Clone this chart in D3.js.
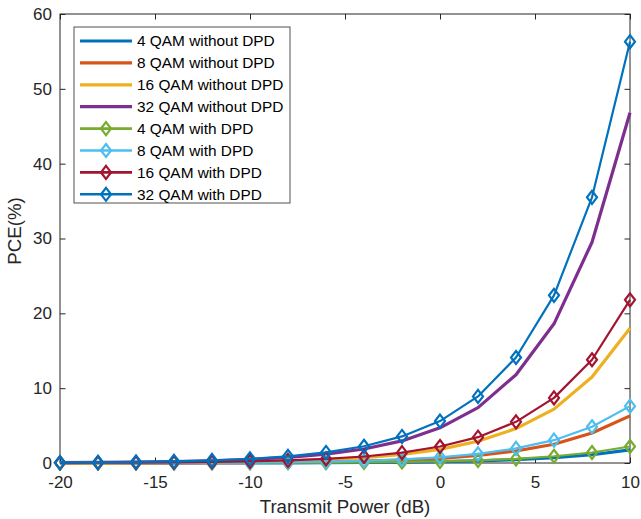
<!DOCTYPE html>
<html>
<head>
<meta charset="utf-8">
<script src="https://cdn.jsdelivr.net/npm/d3@7"></script>
<style>
  html, body { margin: 0; padding: 0; background: #fff; }
  svg { display: block; font-family: "Liberation Sans", Arial, sans-serif; }
</style>
</head>
<body>
<svg id="chart" width="641" height="519"></svg>
<script>
// Transmit power sweep (dB)
const powerDb = [-20, -18, -16, -14, -12, -10, -8, -6, -4, -2, 0, 2, 4, 6, 8, 10];

// PCE (%) for each modulation order, without and with DPD
const qam4    = [0.0018, 0.0028, 0.0044, 0.007, 0.011, 0.018, 0.028, 0.044, 0.07, 0.11, 0.175, 0.28, 0.44, 0.7, 1.1, 1.75];
const qam8    = [0.0063, 0.01, 0.016, 0.025, 0.04, 0.063, 0.1, 0.16, 0.25, 0.4, 0.63, 1.0, 1.6, 2.5, 4.0, 6.3];
const qam16   = [0.018, 0.029, 0.046, 0.072, 0.115, 0.18, 0.29, 0.46, 0.72, 1.15, 1.82, 2.9, 4.6, 7.2, 11.5, 18.0];
const qam32   = [0.047, 0.074, 0.12, 0.19, 0.3, 0.47, 0.74, 1.18, 1.87, 2.95, 4.7, 7.4, 11.8, 18.6, 29.5, 46.8];
const qam4Dpd = [0.0022, 0.0035, 0.0055, 0.0088, 0.014, 0.022, 0.035, 0.055, 0.088, 0.14, 0.22, 0.35, 0.55, 0.9, 1.4, 2.2];
const qam8Dpd = [0.0076, 0.012, 0.019, 0.03, 0.048, 0.076, 0.12, 0.19, 0.3, 0.48, 0.76, 1.22, 1.95, 3.05, 4.85, 7.6];
const qam16Dpd = [0.022, 0.035, 0.055, 0.087, 0.14, 0.22, 0.35, 0.55, 0.87, 1.38, 2.2, 3.45, 5.5, 8.7, 13.8, 21.8];
const qam32Dpd = [0.056, 0.089, 0.14, 0.22, 0.35, 0.56, 0.89, 1.41, 2.24, 3.55, 5.6, 8.9, 14.1, 22.4, 35.5, 56.3];

const seriesNames = [
  "4 QAM without DPD", "8 QAM without DPD", "16 QAM without DPD", "32 QAM without DPD",
  "4 QAM with DPD", "8 QAM with DPD", "16 QAM with DPD", "32 QAM with DPD"
];
const seriesValues = [qam4, qam8, qam16, qam32, qam4Dpd, qam8Dpd, qam16Dpd, qam32Dpd];
const seriesColors = ["#0072BD", "#D95319", "#EDB120", "#7E2F8E", "#77AC30", "#4DBEEE", "#A2142F", "#0072BD"];
const seriesMarkers = [false, false, false, false, true, true, true, true];

const xTicks = [-20, -15, -10, -5, 0, 5, 10];
const yTicks = [0, 10, 20, 30, 40, 50, 60];

const xLabel = "Transmit Power (dB)";
const yLabel = "PCE(%)";

// ---- layout ----
const plot = { left: 60, right: 630, top: 14, bottom: 463 };
const ink = "#262626";

const svg = d3.select("#chart");
const x = d3.scaleLinear().domain([-20, 10]).range([plot.left, plot.right]);
const y = d3.scaleLinear().domain([0, 60]).range([plot.bottom, plot.top]);

const tickLen = 5.5;
const plainNum = d => String(d);   // keep an ASCII hyphen for negatives

// axes frame
const axisG = svg.append("g");
axisG.append("rect")
  .attr("x", plot.left).attr("y", plot.top)
  .attr("width", plot.right - plot.left).attr("height", plot.bottom - plot.top)
  .attr("fill", "none").attr("stroke", ink).attr("stroke-width", 1);

// inward ticks on all four sides, labels on bottom and left
const xAxis = d3.axisBottom(x).tickValues(xTicks).tickFormat(plainNum).tickSizeInner(-tickLen).tickSizeOuter(0);
const yAxis = d3.axisLeft(y).tickValues(yTicks).tickFormat(plainNum).tickSizeInner(-tickLen).tickSizeOuter(0).tickPadding(8);
const xTop = d3.axisTop(x).tickValues(xTicks).tickSizeInner(-tickLen).tickSizeOuter(0).tickFormat("");
const yRight = d3.axisRight(y).tickValues(yTicks).tickSizeInner(-tickLen).tickSizeOuter(0).tickFormat("");

function styleAxis(g) {
  g.select(".domain").remove();
  g.selectAll("line").attr("stroke", ink).attr("stroke-width", 1);
  g.selectAll("text").attr("fill", ink).style("font-size", "17px")
    .style("font-family", "'Liberation Sans', Arial, sans-serif");
}

axisG.append("g").attr("transform", `translate(0,${plot.bottom})`).call(xAxis).call(styleAxis)
  .selectAll("text").attr("dy", "0.71em").attr("y", 13);
axisG.append("g").attr("transform", `translate(${plot.left},0)`).call(yAxis).call(styleAxis);
axisG.append("g").attr("transform", `translate(0,${plot.top})`).call(xTop).call(styleAxis);
axisG.append("g").attr("transform", `translate(${plot.right},0)`).call(yRight).call(styleAxis);

// axis titles
svg.append("text")
  .attr("x", (plot.left + plot.right) / 2).attr("y", 513)
  .attr("text-anchor", "middle").attr("fill", ink)
  .style("font-size", "18.7px").text(xLabel);
svg.append("text")
  .attr("transform", `translate(21,${231}) rotate(-90)`)
  .attr("text-anchor", "middle").attr("fill", ink)
  .style("font-size", "18.7px").text(yLabel);

// diamond marker path centred at origin
function diamondPath(w, h) {
  return `M0,${-h / 2}L${w / 2},0L0,${h / 2}L${-w / 2},0Z`;
}
const diamond = diamondPath(10, 13);

// data lines
const line = d3.line().x(d => x(d[0])).y(d => y(d[1]));
const dataG = svg.append("g");
seriesValues.forEach((vals, i) => {
  const pts = powerDb.map((p, k) => [p, vals[k]]);
  const g = dataG.append("g");
  g.append("path")
    .attr("d", line(pts))
    .attr("fill", "none")
    .attr("stroke", seriesColors[i])
    .attr("stroke-width", seriesMarkers[i] ? 2.2 : 3.2)
    .attr("stroke-linejoin", "round");
  if (seriesMarkers[i]) {
    g.selectAll("path.mk").data(pts).enter().append("path")
      .attr("class", "mk")
      .attr("d", diamond)
      .attr("transform", d => `translate(${x(d[0])},${y(d[1])})`)
      .attr("fill", "none")
      .attr("stroke", seriesColors[i])
      .attr("stroke-width", 2.2);
  }
});

// legend
const legend = { x: 74, y: 27, w: 216, h: 176, row0: 41, rowStep: 21.9 };
const legG = svg.append("g");
legG.append("rect")
  .attr("x", legend.x).attr("y", legend.y)
  .attr("width", legend.w).attr("height", legend.h)
  .attr("fill", "#fff").attr("stroke", ink).attr("stroke-width", 0.8);
seriesNames.forEach((name, i) => {
  const cy = legend.row0 + i * legend.rowStep;
  legG.append("line")
    .attr("x1", 80).attr("x2", 132).attr("y1", cy).attr("y2", cy)
    .attr("stroke", seriesColors[i]).attr("stroke-width", seriesMarkers[i] ? 2.6 : 3.2);
  if (seriesMarkers[i]) {
    legG.append("path").attr("d", diamond)
      .attr("transform", `translate(106,${cy})`)
      .attr("fill", "none").attr("stroke", seriesColors[i]).attr("stroke-width", 2.2);
  }
  legG.append("text")
    .attr("x", 137).attr("y", cy).attr("dy", "0.35em")
    .attr("fill", "#000").style("font-size", "15.4px").text(name);
});
</script>
</body>
</html>
